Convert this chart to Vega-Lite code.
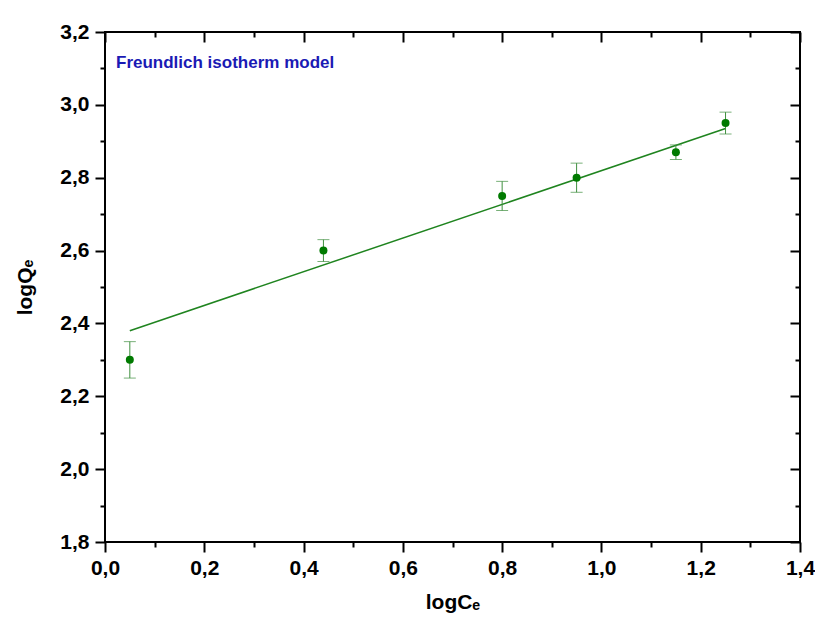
{
  "$schema": "https://vega.github.io/schema/vega-lite/v6.json",
  "autosize": "none",
  "width": 695,
  "height": 510,
  "padding": {"left": 105, "top": 32, "right": 15, "bottom": 79},
  "background": "white",
  "title": {
    "text": "Freundlich isotherm model",
    "anchor": "start",
    "frame": "group",
    "font": "Liberation Sans",
    "fontSize": 17,
    "fontWeight": "bold",
    "color": "#1a1ab4",
    "dx": 11,
    "dy": 55
  },
  "datasets": {
    "pts": [
      {"logC": 0.05, "logQ": 2.30, "lo": 2.25, "hi": 2.35},
      {"logC": 0.44, "logQ": 2.60, "lo": 2.57, "hi": 2.63},
      {"logC": 0.80, "logQ": 2.75, "lo": 2.71, "hi": 2.79},
      {"logC": 0.95, "logQ": 2.80, "lo": 2.76, "hi": 2.84},
      {"logC": 1.15, "logQ": 2.87, "lo": 2.85, "hi": 2.89},
      {"logC": 1.25, "logQ": 2.95, "lo": 2.92, "hi": 2.98}
    ],
    "fit": [
      {"logC": 0.05, "logQ": 2.38},
      {"logC": 1.25, "logQ": 2.935}
    ]
  },
  "layer": [
    {
      "data": {"name": "fit"},
      "mark": {"type": "line", "color": "#1f841f", "strokeWidth": 1.5},
      "encoding": {
        "x": {"field": "logC", "type": "quantitative", "scale": {"domain": [0, 1.4], "nice": false, "zero": false},
          "axis": {"orient": "bottom", "values": [0, 0.2, 0.4, 0.6, 0.8, 1.0, 1.2, 1.4], "tickSize": 10, "labelPadding": 5,
            "labelFlush": false, "labelOverlap": false,
            "labelExpr": "replace(format(datum.value, '.1f'), '.', ',')",
            "title": "logCₑ", "titlePadding": 13}},
        "y": {"field": "logQ", "type": "quantitative", "scale": {"domain": [1.8, 3.2], "nice": false, "zero": false},
          "axis": {"orient": "left", "values": [1.8, 2.0, 2.2, 2.4, 2.6, 2.8, 3.0, 3.2], "tickSize": 10, "labelPadding": 6,
            "labelFlush": false, "labelOverlap": false,
            "labelExpr": "replace(format(datum.value, '.1f'), '.', ',')",
            "title": "logQₑ", "titlePadding": 24}}
      }
    },
    {
      "data": {"name": "pts"},
      "mark": {"type": "rule", "color": "#3f8f3f", "strokeWidth": 1},
      "encoding": {
        "x": {"field": "logC", "type": "quantitative", "scale": {"domain": [0, 1.4], "nice": false, "zero": false},
          "axis": {"orient": "bottom", "values": [0.1, 0.3, 0.5, 0.7, 0.9, 1.1, 1.3], "tickSize": 5, "labels": false, "title": null}},
        "y": {"field": "lo", "type": "quantitative", "scale": {"domain": [1.8, 3.2], "nice": false, "zero": false},
          "axis": {"orient": "left", "values": [1.9, 2.1, 2.3, 2.5, 2.7, 2.9, 3.1], "tickSize": 5, "labels": false, "title": null}},
        "y2": {"field": "hi"}
      }
    },
    {
      "data": {"name": "pts"},
      "mark": {"type": "tick", "orient": "horizontal", "color": "#3f8f3f", "size": 12, "thickness": 1},
      "encoding": {
        "x": {"field": "logC", "type": "quantitative", "scale": {"domain": [0, 1.4], "nice": false, "zero": false},
          "axis": {"orient": "top", "values": [0, 0.2, 0.4, 0.6, 0.8, 1.0, 1.2, 1.4], "tickSize": -10, "labels": false, "title": null}},
        "y": {"field": "lo", "type": "quantitative", "scale": {"domain": [1.8, 3.2], "nice": false, "zero": false},
          "axis": {"orient": "right", "values": [1.8, 2.0, 2.2, 2.4, 2.6, 2.8, 3.0, 3.2], "tickSize": -10, "labels": false, "title": null}}
      }
    },
    {
      "data": {"name": "pts"},
      "mark": {"type": "tick", "orient": "horizontal", "color": "#3f8f3f", "size": 12, "thickness": 1},
      "encoding": {
        "x": {"field": "logC", "type": "quantitative", "scale": {"domain": [0, 1.4], "nice": false, "zero": false},
          "axis": {"orient": "top", "values": [0.1, 0.3, 0.5, 0.7, 0.9, 1.1, 1.3], "tickSize": -5, "labels": false, "title": null}},
        "y": {"field": "hi", "type": "quantitative", "scale": {"domain": [1.8, 3.2], "nice": false, "zero": false},
          "axis": {"orient": "right", "values": [1.9, 2.1, 2.3, 2.5, 2.7, 2.9, 3.1], "tickSize": -5, "labels": false, "title": null}}
      }
    },
    {
      "data": {"name": "pts"},
      "mark": {"type": "point", "shape": "circle", "filled": true, "color": "#007a00", "opacity": 1, "size": 64},
      "encoding": {
        "x": {"field": "logC", "type": "quantitative", "scale": {"domain": [0, 1.4], "nice": false, "zero": false}, "axis": null},
        "y": {"field": "logQ", "type": "quantitative", "scale": {"domain": [1.8, 3.2], "nice": false, "zero": false}, "axis": null}
      }
    }
  ],
  "resolve": {"axis": {"x": "independent", "y": "independent"}},
  "config": {
    "view": {"stroke": "black", "strokeWidth": 2},
    "axis": {
      "domain": false,
      "grid": false,
      "tickColor": "black",
      "tickWidth": 2,
      "labelFont": "Liberation Sans",
      "labelFontSize": 21,
      "labelFontWeight": "bold",
      "labelColor": "black",
      "titleFont": "Liberation Sans",
      "titleFontSize": 21,
      "titleFontWeight": "bold",
      "titleColor": "black"
    }
  }
}
